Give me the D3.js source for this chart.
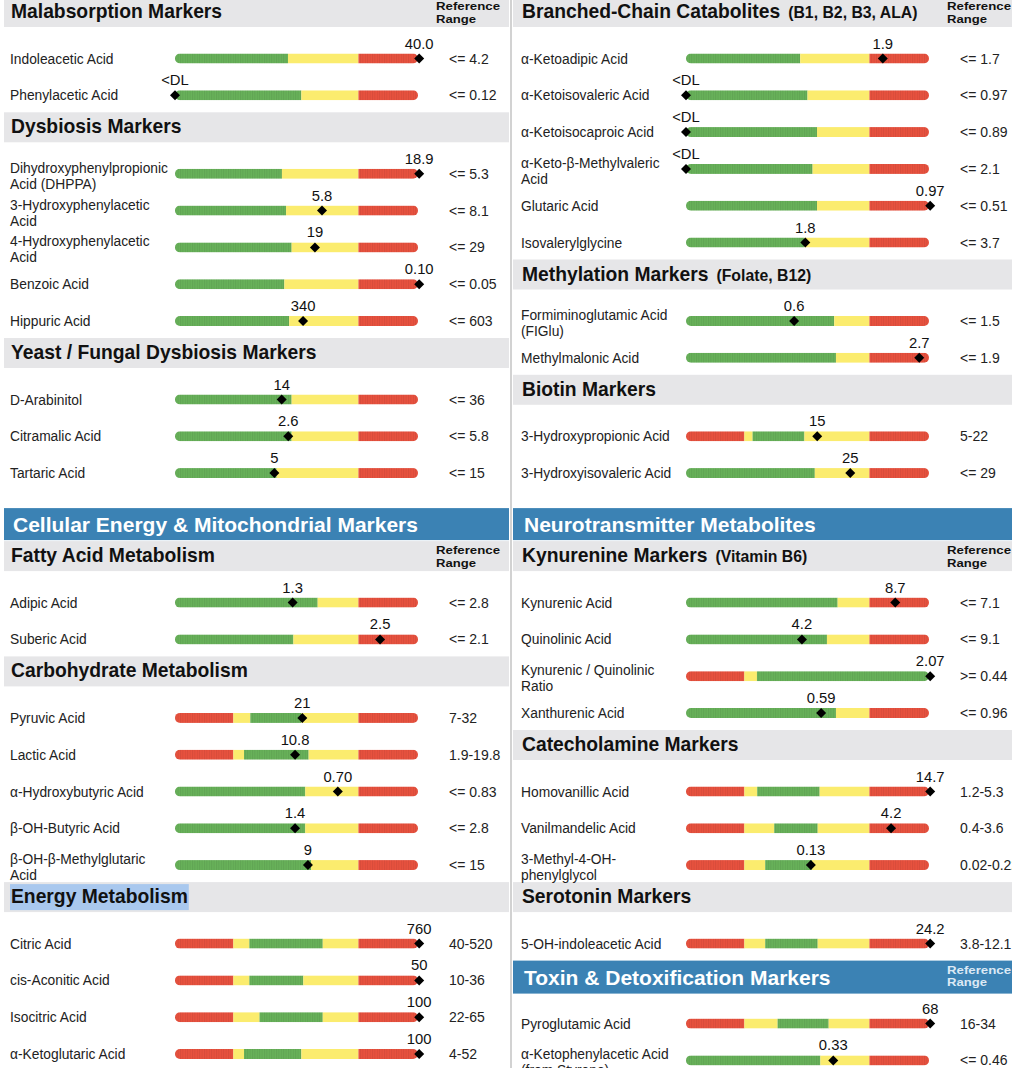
<!DOCTYPE html>
<html>
<head>
<meta charset="utf-8">
<script src="https://cdn.jsdelivr.net/npm/d3@7"></script>
<style>
body { margin: 0; background: #fff; }
svg { display: block; font-family: "Liberation Sans", Arial, Helvetica, sans-serif; }
</style>
</head>
<body>
<div id="chart"></div>
<script>
// marker names, "|" breaks a label onto a second line
const names = [
  "Indoleacetic Acid", "Phenylacetic Acid",
  "Dihydroxyphenylpropionic|Acid (DHPPA)", "3-Hydroxyphenylacetic|Acid", "4-Hydroxyphenylacetic|Acid", "Benzoic Acid", "Hippuric Acid",
  "D-Arabinitol", "Citramalic Acid", "Tartaric Acid",
  "Adipic Acid", "Suberic Acid",
  "Pyruvic Acid", "Lactic Acid", "α-Hydroxybutyric Acid", "β-OH-Butyric Acid", "β-OH-β-Methylglutaric|Acid",
  "Citric Acid", "cis-Aconitic Acid", "Isocitric Acid", "α-Ketoglutaric Acid",
  "α-Ketoadipic Acid", "α-Ketoisovaleric Acid", "α-Ketoisocaproic Acid", "α-Keto-β-Methylvaleric|Acid", "Glutaric Acid", "Isovalerylglycine",
  "Formiminoglutamic Acid|(FIGlu)", "Methylmalonic Acid",
  "3-Hydroxypropionic Acid", "3-Hydroxyisovaleric Acid",
  "Kynurenic Acid", "Quinolinic Acid", "Kynurenic / Quinolinic|Ratio", "Xanthurenic Acid",
  "Homovanillic Acid", "Vanilmandelic Acid", "3-Methyl-4-OH-|phenylglycol",
  "5-OH-indoleacetic Acid",
  "Pyroglutamic Acid", "α-Ketophenylacetic Acid|(from Styrene)"
];

const results = [
  "40.0", "<DL",
  "18.9", "5.8", "19", "0.10", "340",
  "14", "2.6", "5",
  "1.3", "2.5",
  "21", "10.8", "0.70", "1.4", "9",
  "760", "50", "100", "100",
  "1.9", "<DL", "<DL", "<DL", "0.97", "1.8",
  "0.6", "2.7",
  "15", "25",
  "8.7", "4.2", "2.07", "0.59",
  "14.7", "4.2", "0.13",
  "24.2",
  "68", "0.33"
];

const refRanges = [
  "<= 4.2", "<= 0.12",
  "<= 5.3", "<= 8.1", "<= 29", "<= 0.05", "<= 603",
  "<= 36", "<= 5.8", "<= 15",
  "<= 2.8", "<= 2.1",
  "7-32", "1.9-19.8", "<= 0.83", "<= 2.8", "<= 15",
  "40-520", "10-36", "22-65", "4-52",
  "<= 1.7", "<= 0.97", "<= 0.89", "<= 2.1", "<= 0.51", "<= 3.7",
  "<= 1.5", "<= 1.9",
  "5-22", "<= 29",
  "<= 7.1", "<= 9.1", ">= 0.44", "<= 0.96",
  "1.2-5.3", "0.4-3.6", "0.02-0.22",
  "3.8-12.1",
  "16-34", "<= 0.46"
];

// where the result sits on the gauge (0-100)
const gaugePos = [
  100.5, 0,
  100.5, 60.5, 57.6, 100.5, 52.7,
  43.9, 46.6, 40.9,
  48.4, 84.4,
  52.4, 49.4, 67, 49.4, 54.7,
  100.5, 100.5, 100.5, 100.5,
  81, 0, 0, 0, 100.5, 49.1,
  44.5, 96,
  54, 67.6,
  86.1, 47.7, 100.5, 55.6,
  100.5, 84.4, 51.4,
  100.5,
  100.5, 60.6
];

// zone edges on the gauge (0-100)
const zoneEdges = [
  [46.5, 75.5], [52, 75.5],
  [44, 75.5], [45.7, 75.5], [48, 75.5], [45, 75.5], [47, 75.5],
  [48, 75.5], [48, 75.5], [41.8, 75.5],
  [58.7, 75.5], [48.7, 75.5],
  [24, 31, 52, 75.5], [24, 28.4, 55, 75.5], [53.6, 75.5], [53.6, 75.5], [56, 75.5],
  [24, 30.6, 60.8, 75.5], [24, 30.6, 52.8, 75.5], [24, 34.8, 60.8, 75.5], [24, 28.4, 52, 75.5],
  [47, 75.5], [50, 75.5], [53.9, 75.5], [52.1, 75.5], [53.9, 75.5], [48.7, 75.5],
  [61, 75.5], [61.7, 75.5],
  [24, 27.4, 48.7, 75.5], [53, 75.5],
  [62.4, 75.5], [58, 75.5], [24, 29.2], [61.7, 75.5],
  [24, 29.3, 55, 75.5], [24, 36.3, 54.2, 75.5], [24, 32.6, 51.8, 75.5],
  [24, 32.6, 54.2, 75.5],
  [24, 37.7, 58.7, 75.5], [55.3, 75.5]
];

// sections, in reading order
const sectionTitles = [
  "Malabsorption Markers", "Dysbiosis Markers", "Yeast / Fungal Dysbiosis Markers",
  "Cellular Energy & Mitochondrial Markers", "Fatty Acid Metabolism", "Carbohydrate Metabolism", "Energy Metabolism",
  "Branched-Chain Catabolites", "Methylation Markers", "Biotin Markers",
  "Neurotransmitter Metabolites", "Kynurenine Markers", "Catecholamine Markers", "Serotonin Markers",
  "Toxin & Detoxification Markers"
];
const sectionNotes = ["", "", "", "", "", "", "", "(B1, B2, B3, ALA)", "(Folate, B12)", "", "", "(Vitamin B6)", "", "", ""];
const sectionKinds = ["band", "band", "band", "group", "band", "band", "band", "band", "band", "band", "group", "band", "band", "band", "banner"];
const sectionCounts = [2, 5, 3, 0, 2, 5, 4, 6, 2, 2, 0, 4, 3, 1, 2];
const sectionColumns = [0, 0, 0, 0, 0, 0, 0, 1, 1, 1, 1, 1, 1, 1, 1];
const sectionRefHeader = [1, 0, 0, 0, 1, 0, 0, 1, 0, 0, 0, 1, 0, 0, 1];
const highlighted = "Energy Metabolism";

const width = 1012;
const height = 1068;
const colX = [0, 511];
const bandLeft = [4, 513];
const bandRight = [509, 1012];
const rowStep = 36.8;

const gray = "#e6e6e8";
const blue = "#3b82b4";
const green = "#68b25a";
const yellow = "#fbec6e";
const red = "#e9523f";

// walk both columns and place headers / rows
const headers = [];
const rows = [];
const cursor = [-3, -3];
let m = 0;
sectionTitles.forEach((title, i) => {
  const col = sectionColumns[i];
  let y = cursor[col];
  const kind = sectionKinds[i];
  if (kind === "group") {
    y += 18;
    headers.push({ title, kind, col, y, h: 32, note: "", ref: false });
    cursor[col] = y + 33;
    return;
  }
  const h = kind === "banner" ? 33 : 30;
  headers.push({ title, kind, col, y, h, note: sectionNotes[i], ref: sectionRefHeader[i] === 1 });
  let ry = y + h + (kind === "banner" ? 30 : 31.5);
  for (let k = 0; k < sectionCounts[i]; k++) {
    rows.push({ i: m, col, y: ry });
    m++;
    ry += rowStep;
  }
  cursor[col] = ry - rowStep + 17;
});

const svg = d3.select("#chart")
  .append("svg")
  .attr("width", width)
  .attr("height", height);

const defs = svg.append("defs");
defs.append("pattern")
    .attr("id", "stripes")
    .attr("patternUnits", "userSpaceOnUse")
    .attr("width", 2.4)
    .attr("height", 20)
  .append("rect")
    .attr("width", 1)
    .attr("height", 20)
    .attr("fill", "rgba(0,0,0,0.08)");

// section headers
headers.forEach(hd => {
  const x0 = colX[hd.col];
  const g = svg.append("g").attr("transform", `translate(0,${hd.y})`);
  g.append("rect")
    .attr("x", bandLeft[hd.col])
    .attr("width", bandRight[hd.col] - bandLeft[hd.col])
    .attr("height", hd.h)
    .attr("fill", hd.kind === "band" ? gray : blue);

  if (hd.kind === "band") {
    const t = g.append("text")
      .attr("x", x0 + 11)
      .attr("y", 21)
      .attr("font-size", 19.3)
      .attr("font-weight", "bold")
      .attr("fill", "#111")
      .text(hd.title);
    if (hd.title === highlighted) {
      const bb = t.node().getBBox();
      g.insert("rect", "text")
        .attr("x", bb.x - 1)
        .attr("y", 2)
        .attr("width", bb.width + 2)
        .attr("height", hd.h - 4)
        .attr("fill", "#a9c8ee");
    }
    if (hd.note) {
      g.append("text")
        .attr("x", x0 + 11 + t.node().getComputedTextLength() + 8)
        .attr("y", 21)
        .attr("font-size", 15.8)
        .attr("font-weight", "bold")
        .attr("fill", "#111")
        .text(hd.note);
    }
  } else {
    g.append("text")
      .attr("x", x0 + 13)
      .attr("y", hd.h / 2 + 7.5)
      .attr("font-size", 21)
      .attr("font-weight", "bold")
      .attr("fill", "#fff")
      .text(hd.title);
  }

  if (hd.ref) {
    const fill = hd.kind === "band" ? "#111" : "#dce9f5";
    ["Reference", "Range"].forEach((w, k) => {
      g.append("text")
        .attr("x", x0 + 436)
        .attr("y", 13 + k * 12.5)
        .attr("font-size", 11.5)
        .attr("font-weight", "bold")
        .attr("fill", fill)
        .attr("textLength", k === 0 ? 64 : 40)
        .attr("lengthAdjust", "spacingAndGlyphs")
        .text(w);
    });
  }
});

// column divider
svg.append("line")
  .attr("x1", 511).attr("x2", 511)
  .attr("y1", 0).attr("y2", height)
  .attr("stroke", "#d2d2d2")
  .attr("stroke-width", 2);

const gauge = d3.scaleLinear().domain([0, 100]);
const diamond = d3.symbol().type(d3.symbolSquare).size(50);

rows.forEach(r => {
  const i = r.i;
  const x0 = colX[r.col];
  const x = gauge.copy().range([x0 + 175, x0 + 418]);
  const g = svg.append("g");

  // marker name
  const lines = names[i].split("|");
  const label = g.append("text")
    .attr("font-size", 13.8)
    .attr("fill", "#222");
  lines.forEach((ln, k) => {
    label.append("tspan")
      .attr("x", x0 + 10)
      .attr("y", lines.length === 1 ? r.y + 5 : r.y - 1 + k * 16)
      .text(ln);
  });

  // gauge zones
  const edges = [0, ...zoneEdges[i], 100];
  let colors;
  if (edges.length === 6) colors = [red, yellow, green, yellow, red];
  else if (refRanges[i].startsWith(">=")) colors = [red, yellow, green];
  else colors = [green, yellow, red];

  defs.append("clipPath")
      .attr("id", "clip" + i)
    .append("rect")
      .attr("x", x(0))
      .attr("y", r.y - 5)
      .attr("width", x(100) - x(0))
      .attr("height", 10)
      .attr("rx", 5);

  const bar = g.append("g").attr("clip-path", `url(#clip${i})`);
  const zones = d3.pairs(edges).map((p, k) => ({ a: p[0], b: p[1], c: colors[k] }));
  bar.selectAll("rect.zone")
    .data(zones)
    .join("rect")
      .attr("class", "zone")
      .attr("x", d => x(d.a))
      .attr("y", r.y - 5)
      .attr("width", d => x(d.b) - x(d.a))
      .attr("height", 10)
      .attr("fill", d => d.c);
  bar.selectAll("rect.tex")
    .data(zones.filter(d => d.c !== yellow))
    .join("rect")
      .attr("class", "tex")
      .attr("x", d => x(d.a))
      .attr("y", r.y - 5)
      .attr("width", d => x(d.b) - x(d.a))
      .attr("height", 10)
      .attr("fill", "url(#stripes)");

  // result marker
  g.append("path")
    .attr("d", diamond)
    .attr("transform", `translate(${x(gaugePos[i])},${r.y}) rotate(45)`)
    .attr("fill", "#000");

  g.append("text")
    .attr("x", x(gaugePos[i]))
    .attr("y", r.y - 10)
    .attr("text-anchor", "middle")
    .attr("font-size", 14.8)
    .attr("fill", "#111")
    .text(results[i]);

  // reference range
  g.append("text")
    .attr("x", x0 + 449)
    .attr("y", r.y + 5)
    .attr("font-size", 14)
    .attr("fill", "#222")
    .text(refRanges[i]);
});
</script>
</body>
</html>
